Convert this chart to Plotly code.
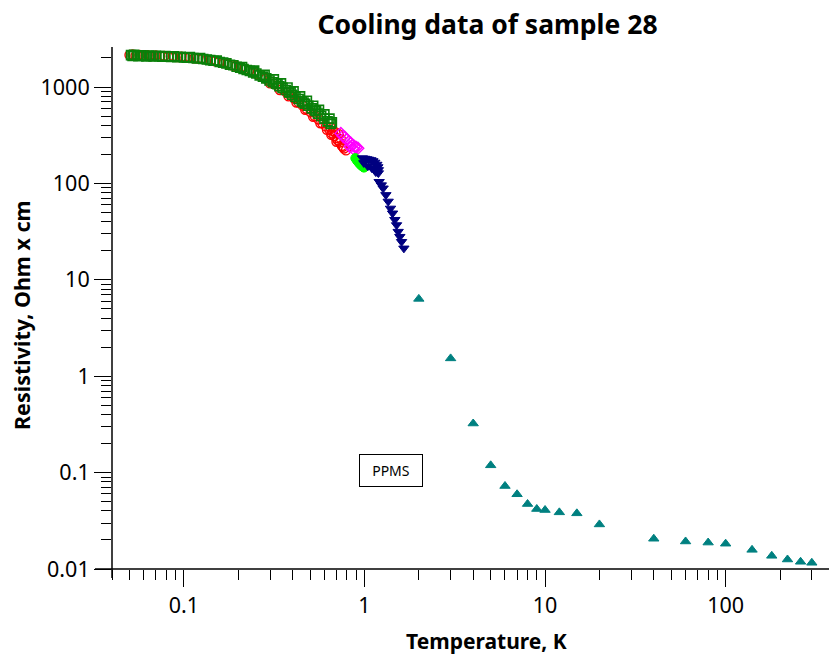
import math
import plotly.graph_objects as go

# ---- dilution-fridge cooling runs (temperature in K, resistivity in Ohm*cm) ----
run_a_T = [0.050, 0.052, 0.054, 0.057, 0.060, 0.063, 0.066, 0.070, 0.074, 0.078,
           0.082, 0.087, 0.092, 0.097, 0.102, 0.108, 0.114, 0.120, 0.127, 0.134,
           0.141, 0.149, 0.157, 0.166, 0.175, 0.185, 0.195, 0.206, 0.217, 0.229,
           0.242, 0.255, 0.269, 0.284, 0.299, 0.315, 0.332, 0.350, 0.369, 0.389,
           0.410, 0.432, 0.455, 0.479, 0.504, 0.530, 0.557, 0.585, 0.612, 0.640,
           0.650, 0.660, 0.670, 0.680, 0.690, 0.700, 0.710, 0.720, 0.730, 0.740,
           0.750, 0.770, 0.790, 0.300, 0.340, 0.380, 0.420, 0.470, 0.520, 0.570,
           0.620, 0.655, 0.700, 0.760]
run_a_R = [2150, 2170, 2110, 2150, 2120, 2140, 2090, 2120, 2080, 2100,
           2060, 2090, 2050, 2060, 2020, 2030, 1990, 1970, 1960, 1910,
           1890, 1850, 1820, 1770, 1740, 1680, 1640, 1580, 1530, 1470,
           1410, 1350, 1290, 1220, 1150, 1080, 1010, 950, 880, 820,
           760, 690, 640, 590, 545, 500, 460, 420, 390, 360,
           380, 330, 350, 310, 340, 295, 280, 325, 265, 290,
           245, 230, 220, 1090, 930, 800, 690, 580, 490, 420,
           360, 320, 270, 240]

run_b_T = [0.051, 0.052, 0.053, 0.055, 0.056, 0.058, 0.060, 0.062, 0.064, 0.066,
           0.068, 0.070, 0.073, 0.076, 0.079, 0.082, 0.085, 0.088, 0.092, 0.096,
           0.100, 0.104, 0.108, 0.113, 0.118, 0.123, 0.128, 0.134, 0.140, 0.146,
           0.152, 0.158, 0.165, 0.172, 0.180, 0.188, 0.196, 0.205, 0.214, 0.223,
           0.232, 0.242, 0.252, 0.263, 0.274, 0.286, 0.298, 0.311, 0.324, 0.338,
           0.352, 0.367, 0.382, 0.398, 0.415, 0.432, 0.450, 0.469, 0.489, 0.510,
           0.531, 0.553, 0.576, 0.600, 0.625, 0.650,
           0.210, 0.245, 0.280, 0.315, 0.345, 0.375, 0.405, 0.440, 0.480, 0.520,
           0.560, 0.600, 0.640, 0.660, 0.540, 0.460, 0.390, 0.330]
run_b_R = [2140, 2100, 2160, 2120, 2090, 2130, 2110, 2080, 2120, 2100,
           2070, 2110, 2090, 2060, 2100, 2070, 2050, 2080, 2040, 2060,
           2030, 2010, 2040, 2000, 1980, 2000, 1950, 1930, 1900, 1870,
           1880, 1820, 1790, 1760, 1700, 1680, 1620, 1590, 1540, 1500,
           1470, 1420, 1380, 1320, 1280, 1230, 1170, 1120, 1080, 1020,
           980, 930, 880, 830, 790, 750, 710, 670, 640, 600,
           570, 530, 500, 470, 440, 415,
           1610, 1480, 1340, 1200, 1090, 990, 900, 800, 720, 640,
           580, 520, 470, 430, 560, 690, 880, 1070]

run_c_T = [0.74, 0.76, 0.78, 0.80, 0.82, 0.83, 0.84, 0.86, 0.87, 0.88, 0.90, 0.92]
run_c_R = [330, 310, 300, 285, 270, 240, 262, 250, 228, 242, 236, 232]

run_d_T = [0.89, 0.90, 0.91, 0.92, 0.93, 0.94, 0.95, 0.96, 0.97, 0.98, 0.99, 0.995]
run_d_R = [183, 178, 172, 168, 164, 160, 157, 154, 151, 149, 147, 146]

run_e_T = [0.975, 1.005, 1.031, 1.057, 1.085, 1.113, 1.141, 1.171, 1.186, 1.194,
           1.194, 0.992, 1.044, 1.099, 1.141, 1.156,
           1.206, 1.240, 1.269, 1.314, 1.353, 1.394, 1.431, 1.473, 1.506, 1.537,
           1.570, 1.605, 1.653]
run_e_R = [183, 181, 179, 177, 175, 171, 165, 157, 148, 138,
           128, 163, 151, 144, 138, 131,
           104, 96, 89, 76, 65, 55, 49, 42, 37, 31.6,
           28, 24.8, 21.2]

# ---- PPMS run ----
ppms_T = [2, 3, 4, 5, 6, 7, 8, 9, 10, 12, 15, 20, 40, 60, 80, 100, 140, 180, 220, 260, 300]
ppms_R = [6.34, 1.53, 0.323, 0.119, 0.0726, 0.0596, 0.0472, 0.0419, 0.0409, 0.0387,
          0.0378, 0.0290, 0.0206, 0.0193, 0.0188, 0.0183, 0.0158, 0.0137, 0.01255,
          0.01188, 0.0116]

x_major = [0.1, 1, 10, 100]
x_major_text = ["0.1", "1", "10", "100"]
y_major = [0.01, 0.1, 1, 10, 100, 1000]
y_major_text = ["0.01", "0.1", "1", "10", "100", "1000"]

x_minor = [m * 10 ** e for e in range(-2, 3) for m in range(2, 10)]
x_minor = [v for v in x_minor if 0.039 < v < 340]
y_minor = [m * 10 ** e for e in range(-2, 4) for m in range(2, 10)]
y_minor = [v for v in y_minor if v < 2600]

FONT = "Noto Sans"

fig = go.Figure()

series = [
    (run_a_T, run_a_R, "circle-open", "#ff0000", 9, 1.4),
    (run_b_T, run_b_R, "square-open", "#0a800a", 9, 1.6),
    (run_c_T, run_c_R, "diamond-open", "#ff00ff", 9, 1.4),
    (run_d_T, run_d_R, "circle", "#00ff00", 9, 1),
    (run_e_T, run_e_R, "triangle-down", "#000080", 9, 1),
    (ppms_T, ppms_R, "triangle-up", "#008080", 9, 1),
]
for T, R, sym, col, size, lw in series:
    fig.add_trace(go.Scatter(
        x=T, y=R, mode="markers",
        marker=dict(symbol=sym, size=size, color=col,
                    line=dict(color=col, width=lw)),
        showlegend=False,
    ))

W, H = 829, 656
L, Rm, Tm, B = 112, 8, 47, 87
pw, ph = W - L - Rm, H - Tm - B

fig.update_xaxes(
    type="log", range=[math.log10(0.04), 2.528],
    showline=False, showgrid=False, zeroline=False,
    tickmode="array", tickvals=x_major, ticktext=x_major_text,
    ticks="outside", ticklen=17, tickwidth=1, tickcolor="black",
    tickfont=dict(family=FONT, size=21.5, color="black"),
    minor=dict(tickmode="array", tickvals=x_minor, ticks="outside",
               ticklen=10, tickwidth=1, tickcolor="black", showgrid=False),
)
fig.update_yaxes(
    type="log", range=[-2, 3.415],
    showline=False, showgrid=False, zeroline=False,
    tickmode="array", tickvals=y_major, ticktext=y_major_text,
    ticks="outside", ticklen=17, tickwidth=1, tickcolor="black",
    tickfont=dict(family=FONT, size=21.5, color="black"),
    minor=dict(tickmode="array", tickvals=y_minor, ticks="outside",
               ticklen=10, tickwidth=1, tickcolor="black", showgrid=False),
)

# axis lines that run slightly past each other at the corner
fig.add_shape(type="line", xref="paper", yref="paper",
              x0=(95 - L) / pw, x1=(W - L) / pw, y0=0, y1=0,
              line=dict(color="black", width=1.5))
fig.add_shape(type="line", xref="paper", yref="paper",
              x0=0, x1=0, y0=-9 / ph, y1=1,
              line=dict(color="black", width=1.5))

fig.add_annotation(text="<b>Temperature, K</b>", xref="paper", yref="paper",
                   x=(487 - L) / pw, y=(Tm + ph - 641) / ph, xanchor="center",
                   yanchor="middle", showarrow=False,
                   font=dict(family=FONT, size=21, color="black"))
fig.add_annotation(text="<b>Resistivity, Ohm x cm</b>", xref="paper", yref="paper",
                   x=(21 - L) / pw, y=(Tm + ph - 315) / ph, xanchor="center",
                   yanchor="middle", textangle=-90, showarrow=False,
                   font=dict(family=FONT, size=21.5, color="black"))
fig.add_annotation(text="PPMS", xref="paper", yref="paper",
                   x=(391.3 - L) / pw, y=(Tm + ph - 470.7) / ph,
                   xanchor="center", yanchor="middle", showarrow=False,
                   width=60, height=29, borderpad=1, borderwidth=1,
                   bordercolor="black", bgcolor="white",
                   font=dict(family=FONT, size=14, color="black"))

fig.update_layout(
    width=W, height=H,
    margin=dict(l=L, r=Rm, t=Tm, b=B),
    paper_bgcolor="white", plot_bgcolor="white",
    title=dict(text="<b>Cooling data of sample 28</b>", x=487.5 / W, xanchor="center",
               y=1 - 25 / H, yanchor="middle",
               font=dict(family=FONT, size=26.5, color="black")),
)

fig.write_html("out.html")
